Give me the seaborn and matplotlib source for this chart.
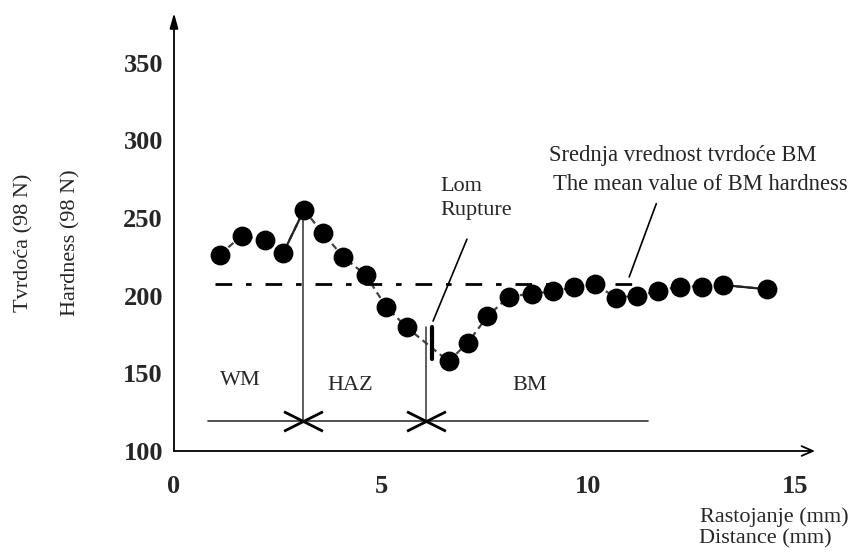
import matplotlib
matplotlib.use("Agg")
import matplotlib.pyplot as plt
import seaborn as sns
import pandas as pd
from matplotlib.path import Path

# podaci ocitani sa slike
rastojanje = [1.11, 1.64, 2.20, 2.64, 3.14, 3.59, 4.09, 4.63, 5.12, 5.62, 6.63, 7.09, 7.57,
              8.08, 8.64, 9.16, 9.66, 10.17, 10.67, 11.18, 11.70, 12.21, 12.75, 13.25, 14.33]
tvrdoca = [226.5, 238.7, 235.7, 227.6, 255.3, 240.4, 224.9, 213.3, 192.9, 179.6, 157.7, 169.6, 186.7,
           199.3, 201.4, 202.7, 205.7, 207.3, 198.8, 199.9, 203.1, 205.9, 205.9, 206.9, 204.1]

srednja_bm = 207.3          # srednja vrednost tvrdoce BM
srednja_od_do = [1.0, 11.3]
granice = [3.12, 6.09]      # WM/HAZ i HAZ/BM
granica_vrh = [255.3, 179.6]
osnova_y = 119.5
osnova_od_do = [0.82, 11.45]
lom_x = 6.23
lom_y = [159.0, 179.6]

zone = ["WM", "HAZ", "BM"]
zone_x = [1.6, 4.25, 8.6]
zone_y = [145.7, 142.0, 142.0]

xticks = [0, 5, 10, 15]
yticks = [100, 150, 200, 250, 300, 350]

df = pd.DataFrame({"x": rastojanje, "y": tvrdoca})

sns.set_style("white")
plt.rcParams["font.family"] = ["Liberation Serif", "DejaVu Serif"]

fig = plt.figure(figsize=(8.53, 5.54), dpi=100)
ax = fig.add_axes([174 / 853, 103 / 554, 641 / 853, 438 / 554])

# linija izmedju tacaka
sns.lineplot(data=df, x="x", y="y", ax=ax, color="#444444", lw=1.6, linestyle=(0, (3, 2)))
sns.lineplot(data=df.iloc[3:5], x="x", y="y", ax=ax, color="#222222", lw=1.6)
sns.lineplot(data=df.iloc[23:25], x="x", y="y", ax=ax, color="#222222", lw=1.6)
sns.scatterplot(data=df, x="x", y="y", ax=ax, color="black", s=175, edgecolor="black", zorder=5)

# srednja vrednost BM
ax.plot(srednja_od_do, [srednja_bm, srednja_bm], color="black", lw=2,
        linestyle=(0, (6, 5, 2, 5)))

# granice zona
ax.plot(osnova_od_do, [osnova_y, osnova_y], color="#333333", lw=1.2)
for gx, gy in zip(granice, granica_vrh):
    ax.plot([gx, gx], [osnova_y, gy], color="#333333", lw=1.1)
krst = Path([(-1, -0.5), (1, 0.5), (-1, 0.5), (1, -0.5)],
            [Path.MOVETO, Path.LINETO, Path.MOVETO, Path.LINETO])
ax.plot(granice, [osnova_y] * len(granice), linestyle="none", marker=krst,
        markersize=28, markeredgewidth=2, color="black")
ax.plot([lom_x, lom_x], lom_y, color="black", lw=3)

for t, zx, zy in zip(zone, zone_x, zone_y):
    ax.text(zx, zy, t, fontsize=16, ha="center", va="center")

# napomene
ax.annotate("", xy=(6.23, 182), xytext=(7.10, 238),
            arrowprops=dict(arrowstyle="-", color="black", lw=1.2))
ax.text(6.43, 267.5, "Lom", fontsize=16, ha="left", va="baseline")
ax.text(6.43, 252, "Rupture", fontsize=16, ha="left", va="baseline")

ax.annotate("", xy=(10.97, 210.4), xytext=(11.67, 260.9),
            arrowprops=dict(arrowstyle="-", color="black", lw=1.2))
ax.text(9.06, 286.5, "Srednja vrednost tvrdoće BM", fontsize=16.3, ha="left", va="baseline")
ax.text(9.15, 268, "The mean value of BM hardness", fontsize=16.3, ha="left", va="baseline")

# ose sa strelicama
ax.set_xlim(0, 15.48)
ax.set_ylim(100, 382)
for s in ax.spines.values():
    s.set_visible(False)
ax.annotate("", xy=(0, 1), xytext=(0, 0), xycoords="axes fraction",
            arrowprops=dict(arrowstyle="-|>,head_width=0.25,head_length=0.9", color="black", lw=1.3,
                            shrinkA=0, shrinkB=0))
ax.annotate("", xy=(1, 0), xytext=(0, 0), xycoords="axes fraction",
            arrowprops=dict(arrowstyle="->,head_width=0.35,head_length=0.8", color="black", lw=1.3,
                            shrinkA=0, shrinkB=0))

ax.set_xticks(xticks)
ax.set_yticks(yticks)
ax.tick_params(axis="x", direction="in", length=8, width=1, pad=17, labelsize=19)
ax.tick_params(axis="y", direction="out", length=6, width=1, pad=2, labelsize=19)
for lab in ax.get_xticklabels() + ax.get_yticklabels():
    lab.set_fontweight("bold")
ax.set_xlabel("")
ax.set_ylabel("")

fig.text(24 / 853, 1 - 243 / 554, "Tvrdoća (98 N)", rotation=90, fontsize=16, ha="center", va="center")
fig.text(71 / 853, 1 - 243 / 554, "Hardness (98 N)", rotation=90, fontsize=16, ha="center", va="center")
fig.text(849 / 853, 1 - 517 / 554, "Rastojanje (mm)", fontsize=16, ha="right", va="center")
fig.text(699 / 853, 1 - 539 / 554, "Distance (mm)", fontsize=16, ha="left", va="center")

fig.savefig("out.png", dpi=100)
